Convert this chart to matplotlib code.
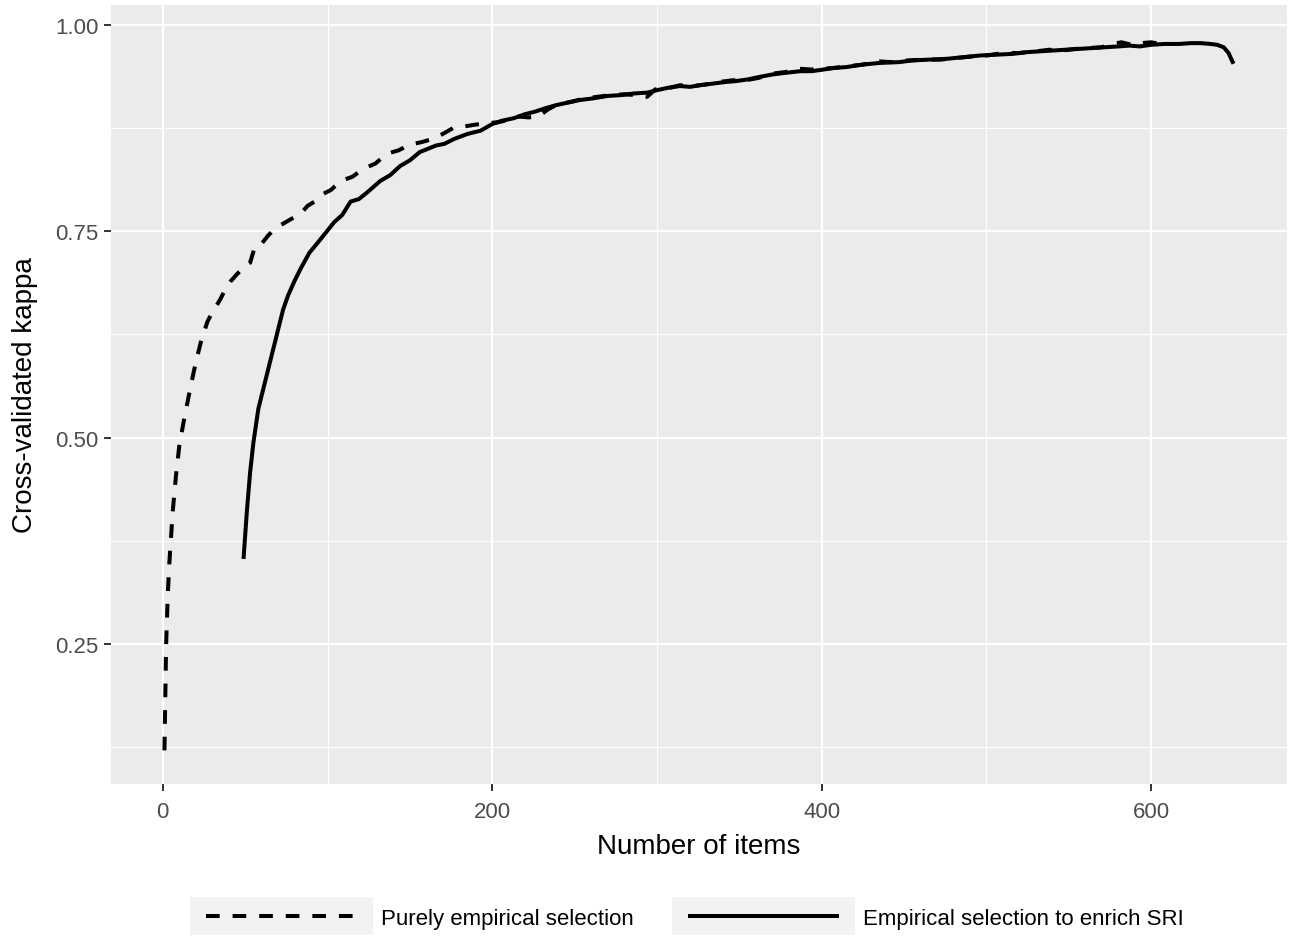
import matplotlib
matplotlib.use('Agg')
import matplotlib.pyplot as plt
from matplotlib.ticker import MultipleLocator

plt.rcParams['font.family'] = ['Liberation Sans', 'DejaVu Sans']

# purely empirical selection (dashed)
emp_x = [1, 2, 3, 4, 6, 8, 10, 13, 17, 20, 23, 27, 30, 32, 35, 38, 41, 45, 50, 53,
         56, 60, 64, 68, 72, 78, 83, 88, 93, 97, 102, 108, 115, 122, 129, 136, 143, 150,
         157, 164, 170, 177, 183, 189, 196, 203, 210, 216, 222, 228, 234, 240, 248, 256,
         264, 272, 280, 288, 294, 299, 306, 314, 322, 330, 338, 346, 354, 362, 370, 378,
         386, 394, 400, 408, 416, 425, 434, 442, 452, 462, 472, 482, 492, 500, 510, 520,
         530, 538, 546, 554, 562, 570, 576, 582, 588, 594, 600, 606]
emp_y = [0.121, 0.248, 0.309, 0.349, 0.410, 0.454, 0.490, 0.523, 0.563, 0.591, 0.615, 0.640, 0.652, 0.658, 0.668, 0.680, 0.689, 0.698, 0.708, 0.712,
         0.732, 0.735, 0.745, 0.753, 0.758, 0.765, 0.770, 0.781, 0.787, 0.795, 0.800, 0.811, 0.816, 0.826, 0.832, 0.844, 0.848, 0.855,
         0.858, 0.862, 0.868, 0.876, 0.877, 0.879, 0.881, 0.882, 0.885, 0.889, 0.888, 0.889, 0.898, 0.904, 0.907, 0.911,
         0.913, 0.915, 0.916, 0.915, 0.913, 0.922, 0.923, 0.927, 0.926, 0.928, 0.931, 0.933, 0.933, 0.936, 0.941, 0.943,
         0.947, 0.946, 0.947, 0.948, 0.950, 0.952, 0.956, 0.955, 0.957, 0.958, 0.958, 0.960, 0.962, 0.963, 0.966, 0.966,
         0.968, 0.970, 0.969, 0.971, 0.972, 0.973, 0.977, 0.979, 0.976, 0.978, 0.979, 0.977]

# empirical selection to enrich SRI (solid)
sri_x = [49, 51, 53, 55, 58, 61, 65, 69, 73, 76, 80, 84, 89, 96, 104, 109, 114, 119, 124,
         132, 138, 144, 150, 156, 161, 166, 171, 177, 185, 193, 200, 206, 213, 220, 226,
         232, 239, 246, 253, 261, 270, 278, 286, 294, 300, 307, 314, 320, 326, 334, 342,
         348, 355, 362, 370, 378, 387, 394, 401, 408, 415, 425, 435, 447, 455, 465, 476,
         486, 496, 506, 516, 524, 532, 540, 548, 556, 564, 572, 580, 587, 593, 600, 608,
         617, 624, 630, 636, 640, 644, 647, 649, 650]
sri_y = [0.353, 0.410, 0.458, 0.494, 0.535, 0.559, 0.591, 0.623, 0.655, 0.672, 0.690, 0.706, 0.724, 0.741, 0.761, 0.770, 0.786, 0.789, 0.797,
         0.811, 0.818, 0.829, 0.836, 0.846, 0.850, 0.854, 0.856, 0.862, 0.868, 0.872, 0.880, 0.884, 0.887, 0.892, 0.895,
         0.899, 0.903, 0.906, 0.909, 0.911, 0.914, 0.915, 0.917, 0.918, 0.921, 0.924, 0.926, 0.925, 0.927, 0.929, 0.931,
         0.932, 0.934, 0.937, 0.940, 0.942, 0.944, 0.944, 0.946, 0.948, 0.949, 0.952, 0.954, 0.955, 0.957, 0.958, 0.959,
         0.961, 0.963, 0.964, 0.965, 0.967, 0.968, 0.969, 0.970, 0.971, 0.972, 0.973, 0.974, 0.975, 0.974, 0.976, 0.977,
         0.977, 0.978, 0.978, 0.977, 0.976, 0.973, 0.966, 0.957, 0.953]

labels = ['Purely empirical selection', 'Empirical selection to enrich SRI']

W, H = 1290, 937
fig = plt.figure(figsize=(W / 100, H / 100), dpi=100)
ax = fig.add_axes([111 / W, 1 - 785 / H, (1287 - 111) / W, (785 - 6) / H])
ax.set_facecolor('#EBEBEB')
for s in ax.spines.values():
    s.set_visible(False)

ax.plot(emp_x, emp_y, color='black', lw=2.9, linestyle=(0, (3.4, 3.2)),
        dash_capstyle='butt', zorder=3)
ax.plot(sri_x, sri_y, color='black', lw=2.9, solid_capstyle='butt', zorder=3)

ax.set_xlim(1 - 0.05 * 649, 650 + 0.05 * 649)
ax.set_ylim(0.0803, 1.0242)
ax.xaxis.set_major_locator(MultipleLocator(200))
ax.xaxis.set_minor_locator(MultipleLocator(100))
ax.yaxis.set_major_locator(MultipleLocator(0.25))
ax.yaxis.set_minor_locator(MultipleLocator(0.125))
ax.set_yticks([0.25, 0.5, 0.75, 1.0])
ax.set_yticklabels(['0.25', '0.50', '0.75', '1.00'])
ax.grid(which='major', color='white', lw=1.6)
ax.grid(which='minor', color='white', lw=0.8)
ax.set_axisbelow(True)
ax.tick_params(which='major', length=5, width=1.4, color='#333333',
               labelsize=16, labelcolor='#4D4D4D', pad=4)
ax.tick_params(axis='x', which='major', pad=7)
ax.tick_params(which='minor', length=0)

ax.set_xlabel('Number of items', fontsize=20, labelpad=8)
ax.set_ylabel('Cross-validated kappa', fontsize=20, labelpad=12)

# legend keys at the bottom
keys = [((0, (3.4, 3.2)), 190, 381), ('-', 672, 863)]
for (ls, kx, tx), lab in zip(keys, labels):
    kax = fig.add_axes([kx / W, 1 - 936 / H, 183 / W, 38 / H])
    kax.set_facecolor('#F2F2F2')
    kax.set_xticks([])
    kax.set_yticks([])
    for s in kax.spines.values():
        s.set_visible(False)
    kax.axhline(0.5, xmin=0.09, xmax=0.91, color='black', lw=2.9,
                linestyle=ls, dash_capstyle='butt', solid_capstyle='butt')
    fig.text(tx / W, 1 - 920 / H, lab, fontsize=16, va='center', ha='left')

fig.savefig('out.png', dpi=100)
